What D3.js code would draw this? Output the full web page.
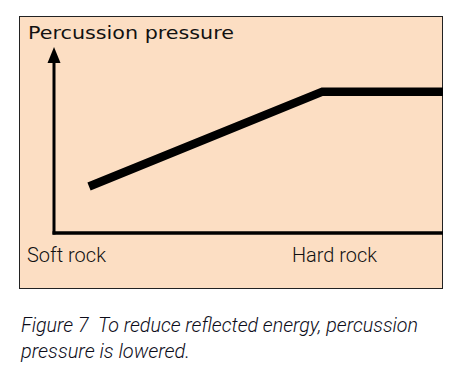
<!DOCTYPE html>
<html><head><meta charset="utf-8">
<script src="https://cdn.jsdelivr.net/npm/d3@7"></script>
<style>body{margin:0;background:#fff}svg{display:block}</style>
</head><body>
<script>
const xLabels = ["Soft rock", "Hard rock"];
const yLabel = "Percussion pressure";
const pressureX = [9, 69, 100];
const pressureY = [25, 76, 76];
const captionLines = ["Figure 7\u00a0\u00a0To reduce reflected energy, percussion", "pressure is lowered."];

const W = 451, H = 373;
const svg = d3.select("body").append("svg").attr("width", W).attr("height", H);
svg.append("rect").attr("x", 19.5).attr("y", 16.5).attr("width", 423).attr("height", 272)
  .attr("fill", "#fcdec3").attr("stroke", "#222").attr("stroke-width", 1);

const x = d3.scaleLinear().domain([0, 100]).range([54, 443]);
const y = d3.scaleLinear().domain([0, 100]).range([233, 47]);

// axes
svg.append("line").attr("x1", x(0)).attr("x2", x(0)).attr("y1", y(0)+1.5).attr("y2", y(92))
  .attr("stroke", "#000").attr("stroke-width", 3);
svg.append("line").attr("x1", x(0)-1.5).attr("x2", x(100)).attr("y1", y(0)).attr("y2", y(0))
  .attr("stroke", "#000").attr("stroke-width", 3.5);
svg.append("path").attr("d", `M${x(0)},${y(100)} L${x(0)-6.5},${y(100)+16} L${x(0)+6.5},${y(100)+16} Z`).attr("fill", "#000");

const pts = pressureX.map((v, i) => [x(v), y(pressureY[i])]);
svg.append("path").attr("d", d3.line()(pts)).attr("fill", "none").attr("stroke", "#000")
  .attr("stroke-width", 8.5).attr("stroke-linejoin", "miter");

svg.append("text").attr("x", 28).attr("y", 39).text(yLabel)
  .attr("font-family", "DejaVu Sans").attr("font-size", 18.5).attr("fill", "#111")
  .attr("textLength", 206).attr("lengthAdjust", "spacingAndGlyphs");

const lx = [27, 292], lw = [79, 85];
xLabels.forEach((t, i) => {
  svg.append("text").attr("x", lx[i]).attr("y", 262).text(t)
    .attr("font-family", "Roboto").attr("font-weight", 300).attr("font-size", 20.5).attr("fill", "#111")
    .attr("textLength", lw[i]).attr("lengthAdjust", "spacingAndGlyphs");
});

const cw = [397, 169];
captionLines.forEach((t, i) => {
  svg.append("text").attr("x", 21).attr("y", 332 + i * 26).text(t)
    .attr("font-family", "Roboto").attr("font-style", "italic").attr("font-weight", 300)
    .attr("font-size", 20.5).attr("fill", "#0d0d1a")
    .attr("textLength", cw[i]).attr("lengthAdjust", "spacingAndGlyphs");
});
</script>
</body></html>
